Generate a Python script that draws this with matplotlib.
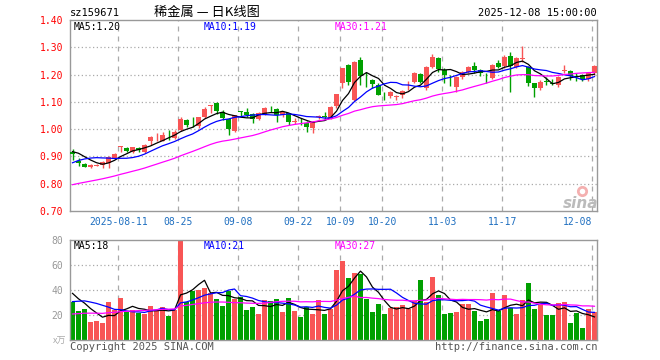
import numpy as np
import pandas as pd
import matplotlib.pyplot as plt

plt.rcParams['font.family'] = ['DejaVu Sans Mono', 'Noto Sans CJK SC']

W, H = 660, 360
RED = '#f85555'
GREEN = '#00a000'

# daily K-line, 2025-07-30 .. 2025-12-08
opens = [0.918, 0.885, 0.873, 0.860, 0.866, 0.869, 0.875, 0.891, 0.934, 0.930,
         0.918, 0.932, 0.915, 0.955, 0.970, 0.958, 0.976, 0.968, 0.998, 1.034,
         1.016, 1.012, 1.043, 1.086, 1.097, 1.064, 1.036, 0.994, 1.065, 1.064,
         1.055, 1.036, 1.056, 1.078, 1.074, 1.052, 1.058, 1.028, 1.031, 1.021,
         1.006, 1.045, 1.047, 1.040, 1.085, 1.168, 1.235, 1.107, 1.253, 1.199,
         1.180, 1.162, 1.126, 1.123, 1.118, 1.125, 1.164, 1.174, 1.202, 1.150,
         1.229, 1.260, 1.217, 1.184, 1.156, 1.190, 1.211, 1.231, 1.217, 1.200,
         1.186, 1.241, 1.231, 1.268, 1.229, 1.257, 1.229, 1.168, 1.150, 1.175,
         1.169, 1.162, 1.212, 1.214, 1.194, 1.199, 1.184, 1.205]
highs = [0.927, 0.896, 0.875, 0.871, 0.872, 0.882, 0.902, 0.914, 0.940, 0.933,
         0.936, 0.936, 0.945, 0.976, 0.985, 0.990, 0.997, 0.997, 1.045, 1.036,
         1.043, 1.046, 1.080, 1.090, 1.099, 1.070, 1.040, 1.053, 1.068, 1.077,
         1.058, 1.062, 1.082, 1.086, 1.076, 1.068, 1.060, 1.042, 1.040, 1.030,
         1.030, 1.052, 1.064, 1.083, 1.128, 1.225, 1.237, 1.250, 1.266, 1.211,
         1.182, 1.168, 1.137, 1.138, 1.125, 1.142, 1.175, 1.211, 1.207, 1.231,
         1.275, 1.263, 1.223, 1.199, 1.193, 1.214, 1.231, 1.247, 1.219, 1.205,
         1.239, 1.253, 1.272, 1.284, 1.263, 1.305, 1.231, 1.170, 1.180, 1.190,
         1.183, 1.195, 1.235, 1.216, 1.205, 1.201, 1.211, 1.235]
lows = [0.887, 0.866, 0.860, 0.856, 0.864, 0.858, 0.857, 0.889, 0.917, 0.916,
        0.912, 0.915, 0.912, 0.943, 0.955, 0.955, 0.960, 0.965, 0.992, 1.008,
        1.009, 1.004, 1.040, 1.058, 1.055, 1.035, 0.980, 0.990, 1.046, 1.046,
        1.022, 1.033, 1.052, 1.064, 1.028, 1.046, 1.015, 1.018, 1.016, 0.988,
        0.985, 1.037, 1.034, 1.037, 1.079, 1.150, 1.162, 1.103, 1.162, 1.156,
        1.152, 1.125, 1.107, 1.113, 1.107, 1.113, 1.145, 1.170, 1.168, 1.144,
        1.223, 1.211, 1.170, 1.158, 1.137, 1.183, 1.205, 1.205, 1.195, 1.168,
        1.183, 1.223, 1.223, 1.137, 1.223, 1.245, 1.158, 1.119, 1.144, 1.162,
        1.162, 1.156, 1.205, 1.180, 1.178, 1.178, 1.178, 1.199]
closes = [0.908, 0.875, 0.863, 0.869, 0.870, 0.880, 0.899, 0.910, 0.938, 0.921,
          0.933, 0.923, 0.942, 0.973, 0.972, 0.979, 0.974, 0.991, 1.038, 1.016,
          1.014, 1.043, 1.074, 1.089, 1.065, 1.040, 1.002, 1.050, 1.063, 1.052,
          1.038, 1.058, 1.079, 1.076, 1.050, 1.064, 1.028, 1.031, 1.029, 1.009,
          1.027, 1.047, 1.045, 1.082, 1.128, 1.223, 1.174, 1.247, 1.196, 1.197,
          1.164, 1.125, 1.124, 1.137, 1.120, 1.140, 1.167, 1.205, 1.174, 1.229,
          1.263, 1.220, 1.199, 1.182, 1.190, 1.211, 1.227, 1.217, 1.206, 1.198,
          1.235, 1.229, 1.266, 1.232, 1.260, 1.260, 1.168, 1.150, 1.174, 1.173,
          1.167, 1.192, 1.215, 1.195, 1.191, 1.184, 1.205, 1.231]
# volume, 万手
volumes = [30.7, 23.2, 24.8, 14.4, 15.2, 13.6, 30.4, 24.0, 33.6, 22.7,
           24.0, 21.9, 20.8, 27.2, 23.2, 26.1, 19.2, 24.0, 88.0, 30.4,
           39.2, 40.0, 41.3, 37.3, 32.8, 27.2, 38.9, 32.8, 34.7, 24.0,
           26.1, 20.8, 31.7, 30.9, 32.5, 22.4, 33.6, 23.2, 18.4, 26.1,
           21.1, 32.0, 20.8, 25.0, 56.0, 63.2, 49.6, 53.9, 52.8, 32.8,
           22.4, 28.8, 20.8, 25.9, 26.1, 28.0, 24.5, 31.2, 48.0, 30.7,
           50.4, 36.0, 20.8, 22.0, 22.7, 28.8, 28.8, 23.2, 15.2, 16.5,
           37.9, 23.2, 36.0, 25.3, 20.8, 32.0, 45.9, 24.8, 28.0, 20.0,
           20.0, 29.9, 30.7, 13.9, 21.9, 9.6, 24.8, 22.1]
# sessions before the window (only feed the moving averages)
prior_close = [0.735, 0.738, 0.742, 0.745, 0.748, 0.750, 0.752, 0.755, 0.758, 0.760,
               0.758, 0.755, 0.757, 0.760, 0.762, 0.765, 0.768, 0.770, 0.772, 0.775,
               0.790, 0.810, 0.835, 0.855, 0.890, 0.905, 0.925, 0.930, 0.920]
prior_vol = [14, 15, 13, 16, 18, 14, 15, 17, 16, 15, 14, 16, 18, 17, 15, 16, 17, 16, 18, 17,
             20, 22, 24, 26, 28.5, 45, 42, 36, 32.8]

tick_dates = ['2025-08-11', '2025-08-25', '2025-09-08', '2025-09-22', '2025-10-09',
              '2025-10-20', '2025-11-03', '2025-11-17', '2025-12-08']
tick_labels = ['2025-08-11', '08-25', '09-08', '09-22', '10-09',
               '10-20', '11-03', '11-17', '12-08']
price_ticks = [0.70, 0.80, 0.90, 1.00, 1.10, 1.20, 1.30, 1.40]
vol_ticks = [20, 40, 60, 80]

days = pd.bdate_range('2025-07-30', '2025-12-08')
days = days[(days < '2025-10-01') | (days > '2025-10-08')]
xi = np.arange(len(days))
# grid lines sit a little left of the candle centre
tick_pos = [days.get_loc(pd.Timestamp(d)) - 0.35 for d in tick_dates]

O, Hh, L, C = map(np.array, (opens, highs, lows, closes))
V = np.array(volumes)
col = np.where(C >= O, RED, GREEN)


def ma(vals, prior, n):
    s = pd.Series(list(prior) + list(vals))
    return s.rolling(n).mean().to_numpy()[len(prior):]


fig = plt.figure(figsize=(W / 100, H / 100), dpi=100)


def px_axes(l, t, r, b):
    return fig.add_axes([l / W, 1 - b / H, (r - l) / W, (b - t) / H])


def ftext(x, y, s, **kw):
    fig.text(x / W, 1 - y / H, s, va='center', **kw)


ax = px_axes(70, 20, 597, 211)
axv = px_axes(70, 240, 597, 340)

for a in (ax, axv):
    a.set_xlim(-0.42, 87.42)
    for sp in a.spines.values():
        sp.set_color('#999999')
        sp.set_linewidth(1.0)
    for t in tick_pos:
        a.axvline(t, color='#aaaaaa', lw=0.9, ls=(0, (4, 4)), zorder=0)
    a.tick_params(length=0, labelsize=7)

# price panel
ax.set_ylim(0.70, 1.40)
for p in price_ticks[1:-1]:
    ax.axhline(p, color='#aaaaaa', lw=0.9, ls=(0, (1, 2)), zorder=0)
ax.vlines(xi, L, Hh, colors=col, lw=1.0, zorder=2)
ax.bar(xi, np.maximum(np.abs(C - O), 0.0015), bottom=np.minimum(O, C),
       width=0.75, color=col, lw=0, zorder=3)
ax.plot(xi, ma(C, prior_close, 5), color='black', lw=0.9, zorder=4)
ax.plot(xi, ma(C, prior_close, 10), color='#0000ff', lw=0.9, zorder=4)
ax.plot(xi, ma(C, prior_close, 30), color='#ff00ff', lw=0.9, zorder=4)
ax.set_yticks(price_ticks)
ax.set_yticklabels(['%.2f' % p for p in price_ticks])
ax.tick_params(axis='y', labelcolor='red', pad=5)
ax.set_xticks(tick_pos)
ax.set_xticklabels(tick_labels)
ax.tick_params(axis='x', labelcolor='#1f6fc0', pad=4)
ax.get_xticklabels()[-1].set_horizontalalignment('right')

# volume panel
axv.set_ylim(0, 80)
for v in vol_ticks[:-1]:
    axv.axhline(v, color='#aaaaaa', lw=0.9, ls=(0, (1, 2)), zorder=0)
axv.bar(xi, V, width=0.83, color=col, lw=0, zorder=2)
axv.plot(xi, ma(V, prior_vol, 5), color='black', lw=0.9, zorder=4)
axv.plot(xi, ma(V, prior_vol, 10), color='#0000ff', lw=0.9, zorder=4)
axv.plot(xi, ma(V, prior_vol, 30), color='#ff00ff', lw=0.9, zorder=4)
axv.set_yticks(vol_ticks)
axv.set_yticklabels([str(v) for v in vol_ticks])
axv.tick_params(axis='y', labelcolor='#999999', pad=5)
axv.set_xticks([])

# texts
ftext(70, 13, 'sz159671', fontsize=7.5)
ftext(207, 12, '稀金属 — 日K线图', fontsize=9.5, ha='center', family='Noto Sans CJK SC')
ftext(597, 13, '2025-12-08 15:00:00', fontsize=7.5, ha='right')
ftext(74, 27, 'MA5:1.20', fontsize=7, color='black')
ftext(204, 27, 'MA10:1.19', fontsize=7, color='#0000ff')
ftext(335, 27, 'MA30:1.21', fontsize=7, color='#ff00ff')
ftext(74, 246, 'MA5:18', fontsize=7, color='black')
ftext(204, 246, 'MA10:21', fontsize=7, color='#0000ff')
ftext(335, 246, 'MA30:27', fontsize=7, color='#ff00ff')
ftext(66, 341, 'x万', fontsize=6.5, color='#aaaaaa', ha='right', family='Noto Sans CJK SC')
ftext(70, 347, 'Copyright 2025 SINA.COM', fontsize=7.5, color='#555555')
ftext(597, 347, 'http://finance.sina.com.cn', fontsize=7.5, color='#555555', ha='right')
ftext(581, 204, 'sina', fontsize=11, color='#bbbbbb', ha='center', style='italic',
      weight='bold', family='DejaVu Sans')
ax.plot([85.0], [0.775], 'o', ms=6, mfc='none', mec='#f4b0b0', mew=2, zorder=1)

fig.savefig('out.png', dpi=100)
